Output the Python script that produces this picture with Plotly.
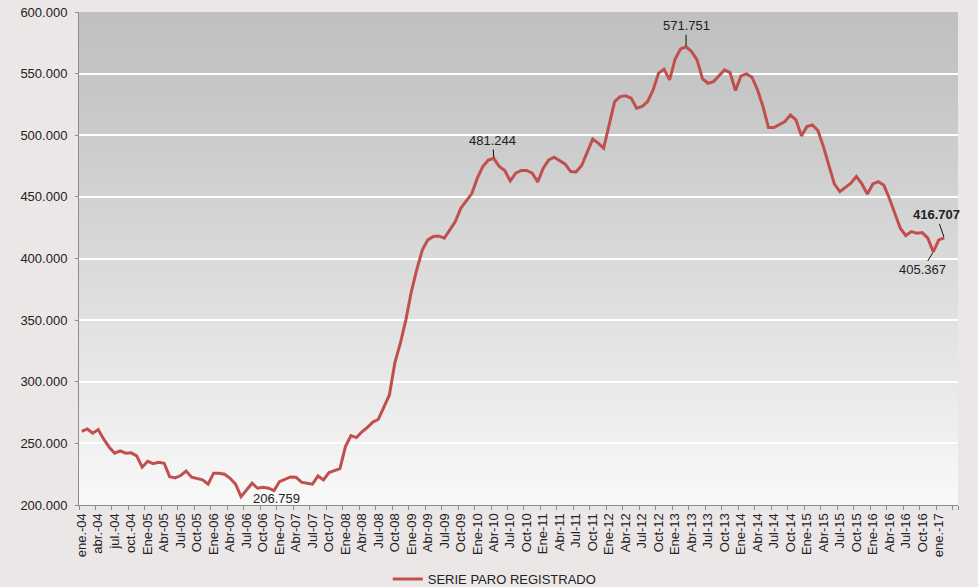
import plotly.graph_objects as go

# Month categories (ene-04 .. abr-17); the series covers the first 158 months
MONTHS = [f"{y}-{m:02d}" for y in range(2004, 2018) for m in range(1, 13)][:160]

TICK_LABELS = ["ene.-04", "abr.-04", "jul.-04", "oct.-04",
               "Ene-05", "Abr-05", "Jul-05", "Oct-05",
               "Ene-06", "Abr-06", "Jul-06", "Oct-06",
               "Ene-07", "Abr-07", "Jul-07", "Oct-07",
               "Ene-08", "Abr-08", "Jul-08", "Oct-08",
               "Ene-09", "Abr-09", "Jul-09", "Oct-09",
               "Ene-10", "Abr-10", "Jul-10", "Oct-10",
               "Ene-11", "Abr-11", "Jul-11", "Oct-11",
               "Ene-12", "Abr-12", "Jul-12", "Oct-12",
               "Ene-13", "Abr-13", "Jul-13", "Oct-13",
               "Ene-14", "Abr-14", "Jul-14", "Oct-14",
               "Ene-15", "Abr-15", "Jul-15", "Oct-15",
               "Ene-16", "Abr-16", "Jul-16", "Oct-16",
               "ene.-17", ""]

PARO = [259800, 261700, 258300, 261200, 253400, 246900, 242000, 243900, 242000, 242300,
        239800, 230700, 235500, 233600, 234700, 233900, 223000, 222000, 223900, 227500,
        222500, 221200, 220400, 216900, 225800, 225800, 225000, 221700, 216900, 206759,
        212300, 217700, 213600, 214400, 213600, 211700, 219000, 221200, 222800, 222500,
        218500, 217700, 216900, 223600, 220400, 226300, 227700, 229500, 247400, 256300,
        254700, 259400, 263000, 267300, 269600, 279400, 289300, 315500, 331300, 350200,
        373200, 391300, 407000, 415100, 417800, 418300, 416500, 423200, 430000, 440800,
        447000, 452700, 465200, 474600, 479800, 481244, 474600, 471400, 463000, 469200,
        471400, 471400, 469200, 462200, 473300, 480000, 482200, 479400, 476500, 470500,
        470300, 475400, 486000, 496800, 493600, 489500, 508400, 527300, 531400, 532000,
        530100, 522000, 523300, 527300, 536800, 550400, 553600, 544900, 561700, 570100,
        571751, 567900, 561200, 545700, 542200, 543500, 548200, 553000, 550900, 536300,
        548200, 549800, 547100, 536800, 523300, 506200, 506200, 508400, 511100, 516500,
        512500, 499500, 507000, 508400, 503800, 490800, 476000, 460300, 454300, 457900,
        461100, 466500, 460500, 452400, 460500, 462400, 459500, 448900, 436800, 424600,
        418600, 421800, 420500, 421000, 416500, 405367, 415100, 416707]

SERIES_NAME = "SERIE PARO REGISTRADO"

FONT = "Liberation Sans, Arial, sans-serif"
TXT = "#222222"
AXIS = "#8c8c8c"
PAPER = "#ece7e7"

fig = go.Figure()
fig.add_trace(go.Scatter(
    x=MONTHS[:len(PARO)], y=PARO, mode="lines", name=SERIES_NAME,
    line=dict(color="#c0504d", width=3), showlegend=True,
))

# vertical grey gradient background of plot area (overlapping bands)
shapes = []
N = 60
for k in range(N):
    t = k / (N - 1)
    c = round(192 + (248 - 192) * (t ** 1.15))
    shapes.append(dict(type="rect", xref="paper", yref="paper",
                       x0=0, x1=1, y0=max(0, 1 - (k + 1.6) / N), y1=1 - k / N,
                       fillcolor=f"rgb({c},{c},{c})", line=dict(width=0),
                       layer="below"))


def fmt(v):
    return f"{v:,}".replace(",", ".")


ann = []
i_max = PARO.index(max(PARO))
i_min = PARO.index(min(PARO))
i_loc = 75
i_low = 155
i_last = len(PARO) - 1
arrow = dict(showarrow=True, arrowhead=0, arrowwidth=1, arrowcolor="#111111",
             standoff=1, font=dict(family=FONT, size=13, color=TXT))
ann.append(dict(x=MONTHS[i_max], y=PARO[i_max], text=fmt(PARO[i_max]), ax=0, ay=-21, **arrow))
ann.append(dict(x=MONTHS[i_loc], y=PARO[i_loc], text=fmt(PARO[i_loc]), ax=-1, ay=-18, **arrow))
ann.append(dict(x=MONTHS[i_last], y=PARO[i_last], text="<b>" + fmt(PARO[i_last]) + "</b>",
                ax=-8, ay=-23, **arrow))
ann.append(dict(x=MONTHS[i_low], y=PARO[i_low], text=fmt(PARO[i_low]), ax=-11, ay=18, **arrow))
ann.append(dict(x=MONTHS[i_min], y=PARO[i_min], text=fmt(PARO[i_min]), showarrow=False,
                xshift=35, yshift=-2, font=dict(family=FONT, size=13, color=TXT)))

fig.update_layout(
    width=978, height=587,
    margin=dict(l=79, r=20, t=12, b=82, autoexpand=False),
    paper_bgcolor=PAPER,
    plot_bgcolor="rgba(0,0,0,0)",
    separators=",.",
    font=dict(family=FONT, size=13, color=TXT),
    shapes=shapes,
    annotations=ann,
    legend=dict(orientation="h", x=0.473, xanchor="center", y=-0.150, yanchor="middle",
                bgcolor="rgba(0,0,0,0)", font=dict(family=FONT, size=13, color=TXT)),
    xaxis=dict(type="category", categoryorder="array", categoryarray=MONTHS,
               range=[-0.5, len(MONTHS) - 0.5], automargin=False,
               tickmode="array", tickvals=MONTHS[::3], ticktext=TICK_LABELS,
               tickson="boundaries", tickangle=-90, ticks="outside", ticklen=4,
               ticklabelstandoff=2,
               tickcolor=AXIS, showgrid=False, showline=True, linecolor=AXIS,
               linewidth=1, tickfont=dict(family=FONT, size=13, color=TXT)),
    yaxis=dict(range=[200000, 600000], dtick=50000, tickformat=",d", automargin=False,
               ticks="outside", ticklen=3, tickcolor=AXIS, ticklabelstandoff=5,
               showgrid=True, gridcolor="#ffffff", gridwidth=1.5,
               showline=True, linecolor=AXIS, linewidth=1, zeroline=False,
               tickfont=dict(family=FONT, size=13, color=TXT)),
)

fig.write_html("out.html",
               config={"displayModeBar": False},
               post_script="document.body.style.margin='0';"
                           "document.body.style.overflow='hidden';"
                           f"document.body.style.background='{PAPER}';")
